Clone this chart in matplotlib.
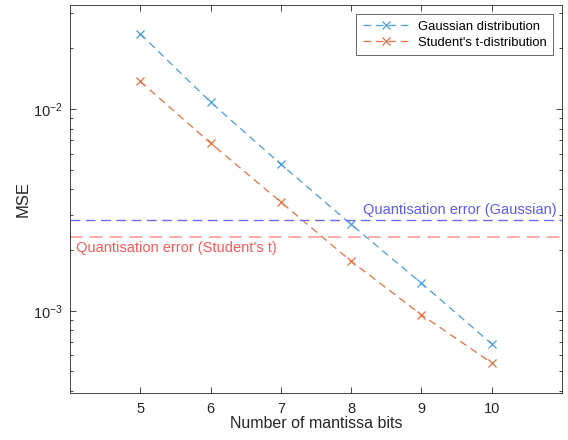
import matplotlib
matplotlib.use("Agg")
from matplotlib import pyplot as plt
from matplotlib.ticker import LogLocator, NullFormatter

plt.rcParams['font.family'] = ['Liberation Sans', 'DejaVu Sans']

# data
bits = [5, 6, 7, 8, 9, 10]
mse_gauss = [0.0236, 0.01083, 0.00533, 0.00268, 0.00137, 0.000685]
mse_student = [0.0137, 0.00678, 0.00346, 0.00176, 0.000955, 0.000552]
qerr_gauss = 0.00282
qerr_student = 0.00233

fig = plt.figure(figsize=(5.68, 4.4), dpi=100)
ax = fig.add_axes([0.1232, 0.1068, 0.8662, 0.8818])

ax.plot(bits, mse_gauss, '--x', color='#4a9ede', lw=0.9, ms=6, mew=0.9,
        dashes=(6, 4), label='Gaussian distribution')
ax.plot(bits, mse_student, '--x', color='#e8703f', lw=0.9, ms=6, mew=0.9,
        dashes=(6, 4), label="Student's t-distribution")

ax.axhline(qerr_gauss, color='#6b6bff', lw=1.0, ls=(0, (7, 4)))
ax.axhline(qerr_student, color='#ffa3a3', lw=1.3, ls=(0, (7, 4)))
ax.text(10.92, qerr_gauss * 1.04, 'Quantisation error (Gaussian)', color='#5a5aff',
        ha='right', va='bottom', fontsize=10.5)
ax.text(4.09, qerr_student * 0.95, "Quantisation error (Student's t)", color='#ff5a5a',
        ha='left', va='top', fontsize=10.5)

ax.set_yscale('log')
ax.set_xlim(4, 11)
ax.set_ylim(3.91e-4, 3.28e-2)
ax.set_xticks(bits)
ax.yaxis.set_minor_locator(LogLocator(base=10, subs=range(2, 10)))
ax.yaxis.set_minor_formatter(NullFormatter())

ax.set_xlabel('Number of mantissa bits', fontsize=11.5, color='#262626', labelpad=0)
ax.set_ylabel('MSE', fontsize=12, color='#262626', labelpad=2)

for s in ax.spines.values():
    s.set_color('#262626')
    s.set_linewidth(0.6)
ax.tick_params(which='both', direction='in', top=True, right=True,
               colors='#262626', labelsize=10.5, width=0.6)
ax.tick_params(which='major', length=4)
ax.tick_params(which='minor', length=2.5)
ax.tick_params(axis='x', which='major', pad=6.5)
ax.tick_params(axis='y', which='major', pad=5)

leg = ax.legend(loc='upper right', fontsize=9.4, frameon=True, fancybox=False,
                edgecolor='#262626', borderaxespad=0.7, handlelength=3.6,
                handletextpad=0.6, borderpad=0.5, labelspacing=0.3)
leg.get_frame().set_linewidth(0.6)

fig.savefig('out.png', dpi=100)
